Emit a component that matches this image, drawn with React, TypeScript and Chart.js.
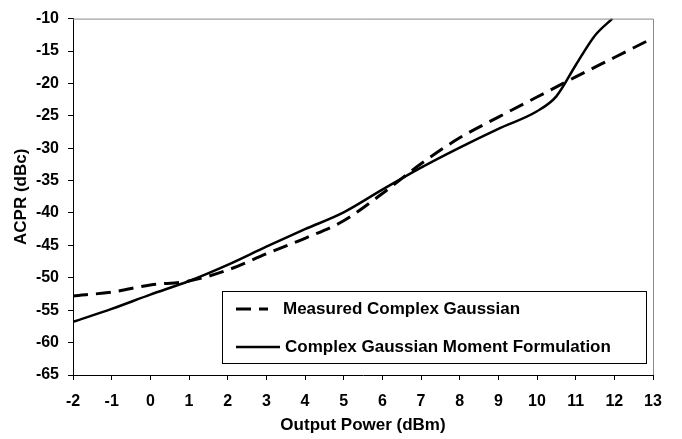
import React, { useEffect, useRef } from "react";
import { Chart, registerables } from "chart.js";

Chart.register(...registerables);

// X values (Output Power, dBm)
const measuredX = [-2, -1, 0, 1, 2, 3, 4, 5, 6, 7, 8, 9, 10, 11, 12, 13];
// Measured Complex Gaussian ACPR (dBc)
const measuredY = [-52.8, -52.2, -51.1, -50.5, -48.8, -46.3, -43.9, -41.2, -37.0, -32.4, -28.4, -25.2, -22.1, -19.0, -16.0, -13.0];

const modelX = [-2, -1, 0, 1, 2, 3, 4, 5, 6, 7, 8, 9, 10, 10.5, 11, 11.5, 11.95];
// Complex Gaussian Moment Formulation ACPR (dBc)
const modelY = [-56.8, -54.8, -52.6, -50.5, -48.0, -45.2, -42.5, -39.9, -36.4, -33.0, -29.9, -27.0, -24.3, -22.0, -17.2, -12.6, -10.0];

const xTicks = [-2, -1, 0, 1, 2, 3, 4, 5, 6, 7, 8, 9, 10, 11, 12, 13];
const yTicks = [-65, -60, -55, -50, -45, -40, -35, -30, -25, -20, -15, -10];

const seriesNames = ["Measured Complex Gaussian", "Complex Gaussian Moment Formulation"];
const xTitle = "Output Power (dBm)";
const yTitle = "ACPR (dBc)";

const FONT = "'Liberation Sans', Arial, sans-serif";
const DASH = [15, 8];

const frameAndLegend = {
  id: "frameAndLegend",
  afterDatasetsDraw(chart: any) {
    const { ctx, chartArea: ca } = chart;
    ctx.save();
    // top and right frame
    ctx.strokeStyle = "#8a8a8a";
    ctx.lineWidth = 1;
    ctx.beginPath();
    ctx.moveTo(ca.left, ca.top + 0.5);
    ctx.lineTo(ca.right + 0.5, ca.top + 0.5);
    ctx.lineTo(ca.right + 0.5, ca.bottom);
    ctx.stroke();

    // legend box
    const lx = ca.left + 149;
    const rx = ca.right - 7;
    const ty = ca.bottom - 84;
    const by = ca.bottom - 12;
    ctx.fillStyle = "#fff";
    ctx.fillRect(lx, ty, rx - lx, by - ty);
    ctx.strokeStyle = "#000";
    ctx.lineWidth = 1;
    ctx.strokeRect(lx + 0.5, ty + 0.5, rx - lx, by - ty);

    const row1 = ty + 18;
    const row2 = ty + 56;
    ctx.lineWidth = 3;
    ctx.setLineDash(DASH);
    ctx.beginPath();
    ctx.moveTo(lx + 14, row1);
    ctx.lineTo(lx + 46, row1);
    ctx.stroke();
    ctx.setLineDash([]);
    ctx.lineWidth = 2.5;
    ctx.beginPath();
    ctx.moveTo(lx + 14, row2);
    ctx.lineTo(lx + 58, row2);
    ctx.stroke();

    ctx.fillStyle = "#000";
    ctx.font = `bold 17px ${FONT}`;
    ctx.textBaseline = "middle";
    ctx.textAlign = "left";
    ctx.fillText(seriesNames[0], lx + 61, row1);
    ctx.fillText(seriesNames[1], lx + 63, row2);
    ctx.restore();
  },
};

export default function App() {
  const ref = useRef<HTMLCanvasElement>(null);
  useEffect(() => {
    document.body.style.margin = "0";
    const chart = new Chart(ref.current!, {
      type: "line",
      data: {
        datasets: [
          {
            label: seriesNames[0],
            data: measuredX.map((x, i) => ({ x, y: measuredY[i] })),
            borderColor: "#000",
            borderWidth: 3,
            borderDash: DASH,
            pointRadius: 0,
            cubicInterpolationMode: "monotone",
            fill: false,
          },
          {
            label: seriesNames[1],
            data: modelX.map((x, i) => ({ x, y: modelY[i] })),
            borderColor: "#000",
            borderWidth: 2.5,
            pointRadius: 0,
            cubicInterpolationMode: "monotone",
            fill: false,
          },
        ],
      },
      options: {
        animation: false,
        responsive: true,
        maintainAspectRatio: false,
        layout: { padding: { top: 13, right: 29, left: 0, bottom: 0 }, autoPadding: false },
        plugins: { legend: { display: false }, tooltip: { enabled: false } },
        scales: {
          x: {
            type: "linear",
            min: xTicks[0],
            max: xTicks[xTicks.length - 1],
            afterFit(scale: any) {
              scale.height = 64;
            },
            afterBuildTicks(scale: any) {
              scale.ticks = xTicks.map((v) => ({ value: v }));
            },
            ticks: { color: "#000", font: { family: FONT, size: 16, weight: "bold" }, padding: 12, maxRotation: 0, autoSkip: false },
            grid: { drawOnChartArea: false, drawTicks: true, tickLength: 5, color: "#000" },
            border: { display: true, color: "#000", width: 1 },
            title: { display: true, text: xTitle, color: "#000", font: { family: FONT, size: 17, weight: "bold" }, padding: { top: 0, bottom: 3 } },
          },
          y: {
            type: "linear",
            min: yTicks[0],
            max: yTicks[yTicks.length - 1],
            afterFit(scale: any) {
              scale.width = 73;
            },
            afterBuildTicks(scale: any) {
              scale.ticks = yTicks.map((v) => ({ value: v }));
            },
            ticks: { color: "#000", font: { family: FONT, size: 16, weight: "bold" }, padding: 9, autoSkip: false },
            grid: { drawOnChartArea: false, drawTicks: true, tickLength: 5, color: "#000" },
            border: { display: true, color: "#000", width: 1 },
            title: { display: true, text: yTitle, color: "#000", font: { family: FONT, size: 17, weight: "bold" }, padding: { top: 11, bottom: 0 } },
          },
        },
      },
      plugins: [frameAndLegend],
    });
    return () => chart.destroy();
  }, []);
  return (
    <div style={{ position: "relative", width: 682, height: 439 }}>
      <canvas ref={ref} />
    </div>
  );
}
